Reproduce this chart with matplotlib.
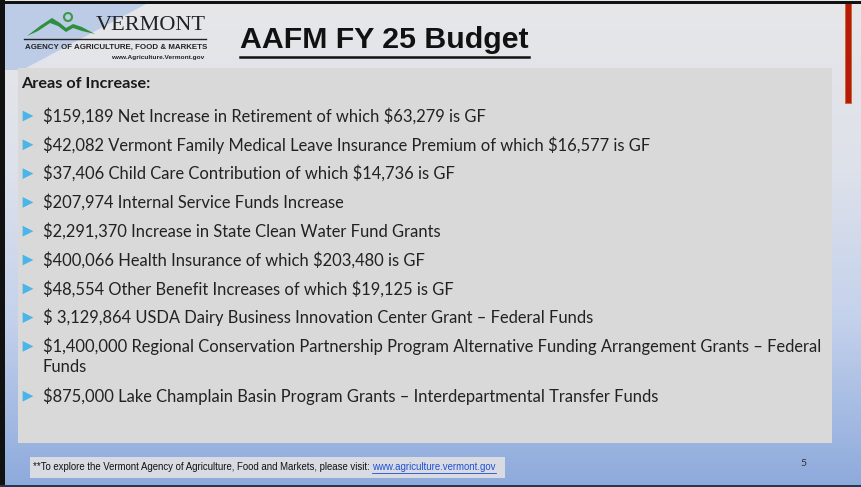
import numpy as np
import matplotlib
matplotlib.use("Agg")
import matplotlib.pyplot as plt
from matplotlib.patches import Rectangle, Polygon, Circle
from matplotlib.colors import LinearSegmentedColormap

plt.rcParams["text.parse_math"] = False

W, H = 861, 487

title = "AAFM FY 25 Budget"
section_heading = "Areas of Increase:"
items = [
    "$159,189 Net Increase in Retirement of which $63,279 is GF",
    "$42,082 Vermont Family Medical Leave Insurance Premium of which $16,577 is GF",
    "$37,406 Child Care Contribution of which $14,736 is GF",
    "$207,974 Internal Service Funds Increase",
    "$2,291,370 Increase in State Clean Water Fund Grants",
    "$400,066 Health Insurance of which $203,480 is GF",
    "$48,554 Other Benefit Increases of which $19,125 is GF",
    "$ 3,129,864 USDA Dairy Business Innovation Center Grant \u2013 Federal Funds",
    "$1,400,000 Regional Conservation Partnership Program Alternative Funding Arrangement Grants \u2013 Federal\nFunds",
    "$875,000 Lake Champlain Basin Program Grants \u2013 Interdepartmental Transfer Funds",
]
footer_text = "**To explore the Vermont Agency of Agriculture, Food and Markets, please visit: "
footer_link = "www.agriculture.vermont.gov"
page_number = "5"

fig = plt.figure(figsize=(W / 100, H / 100), dpi=100)
ax = fig.add_axes([0, 0, 1, 1])
ax.set_xlim(0, W)
ax.set_ylim(H, 0)
ax.axis("off")
renderer = fig.canvas.get_renderer()
inv = ax.transData.inverted()


def fit(txt, width):
    # shrink/grow a text object until it spans the given width in pixels
    for _ in range(3):
        w = txt.get_window_extent(renderer).width
        txt.set_fontsize(txt.get_fontsize() * width / w)
    return txt


def extent(txt):
    bb = txt.get_window_extent(renderer)
    (x0, y0), (x1, y1) = inv.transform([(bb.x0, bb.y0), (bb.x1, bb.y1)])
    return x0, y0, x1, y1


# slide background gradient (grey at top to blue at bottom)
cmap = LinearSegmentedColormap.from_list(
    "bg", [(0.0, "#e7e7e9"), (0.35, "#dde1ea"), (0.65, "#c5d2ec"), (1.0, "#8daadc")]
)
grad = np.linspace(0, 1, 256).reshape(-1, 1)
ax.imshow(grad, cmap=cmap, extent=[0, W, H, 0], aspect="auto", zorder=0)

# light blue triangle behind the logo
ax.add_patch(Polygon([(5, 3), (148, 3), (22, 70), (5, 70)], closed=True,
                     facecolor="#bccbe6", edgecolor="none", zorder=1))

# content box
ax.add_patch(Rectangle((18, 68), 814, 375, facecolor="#d9d9d9", edgecolor="none", zorder=2))

# borders
ax.add_patch(Rectangle((0, 0), 5, H, facecolor="#111111", edgecolor="none", zorder=5))
ax.add_patch(Rectangle((0, 1), W, 2.5, facecolor="#111111", edgecolor="none", zorder=5))
ax.add_patch(Rectangle((0, H - 2), W, 2, facecolor="#2b3550", edgecolor="none", zorder=5))

# red accent bar
ax.add_patch(Rectangle((845, 3), 6, 100, facecolor="#b81a0a", edgecolor="#c8642a",
                       linewidth=0.6, zorder=4))

# logo: mountain swoosh
ax.add_patch(Polygon([(27, 36), (40, 26), (52, 18), (60, 23), (66, 28), (73, 24),
                      (82, 27), (95, 34), (82, 31), (73, 28), (66, 32), (58, 26),
                      (50, 23), (38, 31)], closed=True,
                     facecolor="#2f8f3f", edgecolor="none", zorder=3))
ax.add_patch(Circle((68, 17), 4, facecolor="none", edgecolor="#3a9a48", linewidth=1.5, zorder=3))
fit(ax.text(96, 25, "VERMONT", family="Liberation Serif", fontsize=18, color="#222222",
            ha="left", va="center", zorder=3), 110)
ax.plot([24, 206], [39, 39], color="#222222", linewidth=1.0, zorder=3)
fit(ax.text(25, 47, "AGENCY OF AGRICULTURE, FOOD & MARKETS", family="Liberation Sans",
            fontweight="bold", fontsize=6, color="#222222", ha="left", va="center",
            zorder=3), 178)
fit(ax.text(204, 57, "www.Agriculture.Vermont.gov", family="Liberation Sans",
            fontweight="bold", fontsize=4.5, color="#222222", ha="right", va="center",
            zorder=3), 93)

# title
t = fit(ax.text(240, 40, title, family="Liberation Sans", fontweight="bold",
                fontsize=20, color="#111111", ha="left", va="center", zorder=3), 289)

# body
fit(ax.text(21, 84, section_heading, family="Lato", fontweight="bold", fontsize=11,
            color="#1a1a1a", ha="left", va="center", zorder=3), 130)

y = 116
para_gap = 28.8
line_h = 21
bx, by = [], []
body = []
for item in items:
    lines = item.split("\n")
    bx.append(28)
    by.append(y)
    for k, ln in enumerate(lines):
        body.append(ax.text(43, y + k * line_h, ln, family="Lato", fontsize=11,
                            color="#222222", ha="left", va="center", zorder=3))
    y += para_gap + line_h * (len(lines) - 1)
ax.scatter(bx, by, marker=">", s=60, color="#4ab5e8", edgecolors="none", zorder=3)

# scale body font so the longest line matches the slide
longest = max(body, key=lambda b: b.get_window_extent(renderer).width)
fit(longest, 778)
for b in body:
    b.set_fontsize(longest.get_fontsize())

# footer
ax.add_patch(Rectangle((30, 457), 475, 21, facecolor="#d8dbe2", edgecolor="none", zorder=2))
ft = fit(ax.text(33, 467, footer_text, family="Liberation Sans", fontsize=6.8,
                 color="#111111", ha="left", va="center", zorder=3), 340)
lk = ax.text(extent(ft)[2], 467, footer_link, family="Liberation Sans",
             fontsize=ft.get_fontsize(), color="#1f4fd8", ha="left", va="center", zorder=3)
ax.text(803, 464, page_number, family="Lato", fontsize=7.5, color="#333333",
        ha="center", va="center", zorder=3)

# underlines for title and link
for txt, off, lw, col in [(t, 2.5, 1.8, "#111111"), (lk, 0.5, 0.6, "#1f4fd8")]:
    x0, y0, x1, y1 = extent(txt)
    ax.plot([x0, x1], [y0 + off, y0 + off], color=col, linewidth=lw, zorder=3)

fig.savefig("out.png", dpi=100)
